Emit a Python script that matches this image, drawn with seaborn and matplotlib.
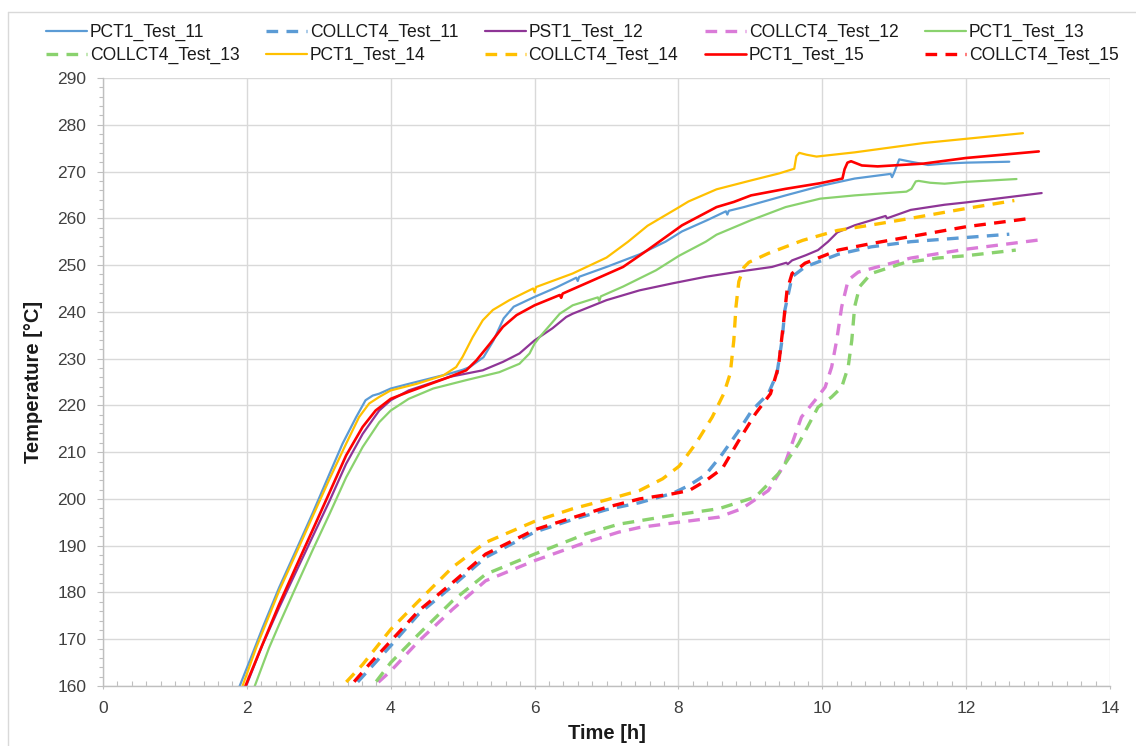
import matplotlib
matplotlib.use("Agg")
import matplotlib.pyplot as plt
from matplotlib.lines import Line2D
from matplotlib.ticker import MultipleLocator
import pandas as pd
import seaborn as sns

# ---------------- measured series: time [h] / temperature [°C] ----------------
pct1_11_time = [1.86, 1.90, 2.04, 2.22, 2.45, 2.68, 2.91, 3.15, 3.33, 3.52, 3.65, 3.75, 3.84, 4.00,
                4.25, 4.82, 5.00, 5.10, 5.29, 5.43, 5.57, 5.71, 6.00, 6.30, 6.58, 6.60, 6.62, 7.00,
                7.46, 7.82, 8.05, 8.40, 8.66, 8.68, 8.70, 8.91, 9.49, 10.00, 10.45, 10.95, 10.97,
                11.00, 11.07, 11.23, 11.47, 11.70, 12.00, 12.60]
pct1_11_temp = [158.0, 160.0, 165.4, 172.5, 181.1, 188.9, 196.8, 205.4, 211.8, 217.5, 221.1, 222.1,
                222.5, 223.6, 224.6, 226.8, 227.6, 228.2, 230.3, 233.9, 238.6, 241.1, 243.2, 245.2,
                247.3, 246.6, 247.5, 249.6, 252.3, 255.0, 257.2, 259.6, 261.5, 260.8, 261.6, 262.4,
                264.9, 267.0, 268.5, 269.5, 268.8, 269.8, 272.6, 272.1, 271.4, 271.7, 271.9, 272.1]

pst1_12_time = [1.95, 1.99, 2.22, 2.45, 2.68, 2.91, 3.15, 3.38, 3.61, 3.84, 4.00, 4.25, 4.82, 5.28,
                5.56, 5.79, 6.00, 6.25, 6.44, 6.53, 7.00, 7.46, 7.92, 8.38, 8.84, 9.30, 9.50, 9.52,
                9.58, 9.77, 9.94, 10.08, 10.21, 10.45, 10.88, 10.90, 11.23, 11.70, 12.00, 13.05]
pst1_12_temp = [158.0, 160.0, 168.9, 176.8, 184.3, 191.8, 199.6, 207.5, 213.9, 218.9, 221.1, 223.2,
                226.1, 227.5, 229.3, 231.1, 233.9, 236.5, 238.9, 239.6, 242.5, 244.6, 246.1, 247.5,
                248.6, 249.6, 250.5, 250.2, 251.0, 252.1, 253.2, 255.0, 257.0, 258.5, 260.5, 260.0,
                261.8, 262.9, 263.4, 265.4]

pct1_13_time = [2.07, 2.11, 2.31, 2.45, 2.68, 2.91, 3.15, 3.38, 3.61, 3.84, 4.00, 4.25, 4.59, 5.05,
                5.51, 5.79, 5.93, 6.00, 6.07, 6.35, 6.53, 6.88, 6.90, 6.92, 7.23, 7.69, 8.01, 8.38,
                8.53, 9.01, 9.49, 9.97, 10.45, 11.17, 11.24, 11.30, 11.34, 11.50, 11.70, 12.00, 12.70]
pct1_13_temp = [158.0, 160.0, 168.2, 173.2, 181.1, 188.9, 196.8, 204.6, 211.1, 216.4, 218.9, 221.4,
                223.6, 225.4, 227.1, 228.9, 231.1, 233.2, 234.6, 239.6, 241.4, 243.1, 242.3, 243.3,
                245.4, 248.9, 252.0, 255.0, 256.5, 259.6, 262.4, 264.2, 264.9, 265.7, 266.3, 267.9,
                268.0, 267.6, 267.4, 267.8, 268.4]

pct1_14_time = [1.90, 1.94, 2.13, 2.45, 2.68, 2.91, 3.15, 3.38, 3.56, 3.70, 3.84, 4.00, 4.36, 4.73,
                4.91, 5.00, 5.14, 5.28, 5.42, 5.65, 5.98, 6.00, 6.02, 6.53, 7.00, 7.30, 7.57, 8.00,
                8.14, 8.53, 9.01, 9.40, 9.61, 9.64, 9.68, 9.78, 9.92, 10.45, 11.41, 12.00, 12.79]
pct1_14_temp = [158.0, 160.0, 168.2, 180.4, 188.2, 196.1, 204.3, 211.8, 217.5, 220.4, 221.8, 223.2,
                224.6, 226.4, 228.2, 230.4, 234.6, 238.2, 240.4, 242.5, 245.0, 244.2, 245.3, 248.2,
                251.6, 255.0, 258.4, 262.3, 263.6, 266.2, 268.1, 269.6, 270.6, 273.3, 274.0, 273.6,
                273.2, 274.1, 276.1, 277.0, 278.2]

pct1_15_time = [1.94, 1.98, 2.18, 2.45, 2.68, 2.91, 3.15, 3.38, 3.61, 3.79, 4.00, 4.25, 4.82, 5.05,
                5.19, 5.38, 5.56, 5.75, 6.00, 6.35, 6.37, 6.39, 6.76, 7.23, 7.57, 8.05, 8.53, 8.77,
                9.01, 9.49, 9.97, 10.28, 10.31, 10.35, 10.40, 10.55, 10.77, 11.41, 12.00, 13.01]
pct1_15_temp = [158.0, 160.0, 167.5, 177.5, 185.4, 193.2, 201.4, 209.3, 215.4, 218.9, 221.4, 222.9,
                226.1, 227.5, 229.6, 233.2, 236.8, 239.3, 241.4, 243.6, 243.0, 243.9, 246.4, 249.6,
                253.2, 258.5, 262.4, 263.5, 264.9, 266.3, 267.5, 268.5, 270.5, 271.9, 272.2, 271.3,
                271.1, 271.7, 272.9, 274.3]

collct4_11_time = [3.44, 3.49, 4.00, 4.39, 4.86, 5.32, 6.00, 6.53, 7.00, 7.46, 7.92, 8.15, 8.38,
                   8.61, 8.84, 9.02, 9.25, 9.37, 9.44, 9.48, 9.58, 9.76, 10.22, 10.68, 11.23,
                   12.00, 12.60]
collct4_11_temp = [157.0, 160.0, 168.6, 175.4, 181.4, 187.5, 192.9, 195.6, 197.7, 199.2, 201.2,
                   202.9, 205.2, 209.6, 214.6, 218.9, 222.5, 226.8, 233.9, 240.4, 247.5, 249.6,
                   252.3, 253.9, 255.0, 255.9, 256.6]

collct4_12_time = [3.73, 3.77, 4.00, 4.39, 4.86, 5.32, 6.00, 6.71, 7.17, 7.46, 8.00, 8.56, 8.88,
                   9.12, 9.25, 9.48, 9.71, 9.90, 10.04, 10.13, 10.20, 10.27, 10.36, 10.50, 10.91,
                   11.23, 12.00, 13.03]
collct4_12_temp = [157.0, 160.0, 163.2, 169.6, 176.4, 182.5, 186.8, 190.7, 192.9, 193.9, 195.0,
                   196.1, 197.9, 200.4, 201.8, 207.5, 217.5, 221.1, 223.9, 228.2, 233.9, 241.1,
                   246.8, 248.5, 250.2, 251.5, 253.4, 255.4]

collct4_13_time = [3.71, 3.75, 4.00, 4.39, 4.86, 5.32, 6.00, 6.71, 7.17, 7.92, 8.56, 9.07, 9.39,
                   9.67, 9.94, 10.13, 10.27, 10.36, 10.41, 10.45, 10.52, 10.68, 11.14, 11.60,
                   12.00, 12.69]
collct4_13_temp = [157.0, 160.0, 165.0, 171.1, 178.2, 183.9, 188.2, 192.5, 194.6, 196.5, 197.9,
                   200.4, 205.4, 211.8, 219.6, 221.8, 223.9, 228.2, 233.9, 241.1, 245.4, 248.2,
                   250.5, 251.5, 252.0, 253.2]

collct4_14_time = [3.28, 3.33, 3.61, 4.00, 4.39, 4.86, 5.32, 6.00, 6.53, 7.00, 7.46, 7.78, 8.01,
                   8.24, 8.47, 8.63, 8.72, 8.77, 8.80, 8.84, 8.91, 8.98, 9.25, 9.73, 10.21, 10.77,
                   11.23, 12.00, 12.67]
collct4_14_temp = [157.0, 160.0, 164.6, 172.1, 178.2, 185.4, 190.7, 195.2, 197.9, 199.8, 201.8,
                   204.3, 207.0, 211.8, 217.5, 222.5, 226.8, 233.9, 241.1, 246.5, 249.5, 250.6,
                   252.5, 255.3, 257.4, 258.8, 260.0, 262.1, 263.8]

collct4_15_time = [3.40, 3.44, 3.70, 4.00, 4.39, 4.86, 5.32, 6.00, 6.53, 7.00, 7.46, 7.92, 8.15,
                   8.38, 8.61, 8.84, 9.07, 9.28, 9.39, 9.46, 9.51, 9.58, 9.76, 10.22, 10.68, 11.23,
                   12.00, 12.90]
collct4_15_temp = [157.0, 160.0, 164.6, 169.6, 176.1, 182.1, 188.2, 193.4, 196.0, 198.2, 200.0,
                   201.1, 201.8, 203.9, 206.5, 212.5, 218.2, 222.5, 228.2, 237.5, 244.6, 248.2,
                   250.4, 253.2, 254.6, 256.1, 258.2, 260.0]

series_names = ["PCT1_Test_11", "COLLCT4_Test_11", "PST1_Test_12", "COLLCT4_Test_12",
                "PCT1_Test_13", "COLLCT4_Test_13", "PCT1_Test_14", "COLLCT4_Test_14",
                "PCT1_Test_15", "COLLCT4_Test_15"]
series_data = [
    (pct1_11_time, pct1_11_temp), (collct4_11_time, collct4_11_temp),
    (pst1_12_time, pst1_12_temp), (collct4_12_time, collct4_12_temp),
    (pct1_13_time, pct1_13_temp), (collct4_13_time, collct4_13_temp),
    (pct1_14_time, pct1_14_temp), (collct4_14_time, collct4_14_temp),
    (pct1_15_time, pct1_15_temp), (collct4_15_time, collct4_15_temp),
]

# ---------------- styles ----------------
colors = {
    "PCT1_Test_11": "#5B9BD5", "COLLCT4_Test_11": "#5B9BD5",
    "PST1_Test_12": "#8E3596", "COLLCT4_Test_12": "#DA7BD8",
    "PCT1_Test_13": "#8AD26E", "COLLCT4_Test_13": "#8AD26E",
    "PCT1_Test_14": "#FFC000", "COLLCT4_Test_14": "#FFC000",
    "PCT1_Test_15": "#FF0000", "COLLCT4_Test_15": "#FF0000",
}

frames = []
for name, (t, temp) in zip(series_names, series_data):
    frames.append(pd.DataFrame({"Time": t, "Temperature": temp, "Series": name}))
df = pd.concat(frames, ignore_index=True)

sns.set_theme(style="white")
plt.rcParams["font.family"] = ["Liberation Sans", "DejaVu Sans"]

W, H = 1136, 746
fig = plt.figure(figsize=(W / 100, H / 100), dpi=100)
ax = fig.add_axes([103 / W, 1 - 686 / H, (1110 - 103) / W, (686 - 78) / H])

for name in series_names:
    sub = df[df["Series"] == name]
    dashed = name.startswith("COLLCT4")
    lw = 2.4 if dashed else (1.9 if name == "PCT1_Test_15" else 1.6)
    line_kw = (dict(dashes=(3.5, 2.5), dash_capstyle="butt") if dashed
               else dict(solid_capstyle="round", solid_joinstyle="round"))
    sns.lineplot(data=sub, x="Time", y="Temperature", ax=ax, sort=False, estimator=None,
                 color=colors[name], lw=lw, label=name, legend=False, **line_kw)

# ---------------- axes ----------------
ax.set_xlim(0, 14)
ax.set_ylim(160, 290)
ax.xaxis.set_major_locator(MultipleLocator(2))
ax.xaxis.set_minor_locator(MultipleLocator(0.2))
ax.yaxis.set_major_locator(MultipleLocator(10))
ax.yaxis.set_minor_locator(MultipleLocator(2))

grid_c = "#D9D9D9"
axis_c = "#BFBFBF"
ax.grid(True, which="major", color=grid_c, lw=1.0)
ax.set_axisbelow(True)
for side in ["top", "right"]:
    ax.spines[side].set_visible(False)
for side in ["left", "bottom"]:
    ax.spines[side].set_color(axis_c)
    ax.spines[side].set_linewidth(1.0)

ax.tick_params(axis="x", which="major", direction="out", length=2, width=0.8,
               color=axis_c, pad=8.5, labelsize=12.5, labelcolor="#404040")
ax.tick_params(axis="x", which="minor", direction="in", length=3.5, width=0.8, color=axis_c)
ax.tick_params(axis="y", which="major", direction="out", length=4, width=0.8,
               color=axis_c, pad=8, labelsize=12.5, labelcolor="#404040")
ax.tick_params(axis="y", which="minor", direction="out", length=3, width=0.8, color=axis_c)
ax.tick_params(which="both", bottom=True, left=True, top=False, right=False)

ax.set_xlabel("Time [h]", fontsize=14.5, fontweight="bold", color="#1a1a1a", labelpad=6)
ax.set_ylabel("Temperature [°C]", fontsize=14.5, fontweight="bold", color="#1a1a1a", labelpad=10)

# ---------------- legend (row-major order over two rows) ----------------
handles, labels = ax.get_legend_handles_labels()
order = [0, 5, 1, 6, 2, 7, 3, 8, 4, 9]
fig.legend([handles[i] for i in order], [labels[i] for i in order], ncol=5,
           loc="upper left", bbox_to_anchor=(46 / W, 1 - 24 / H), frameon=False,
           fontsize=12.65, handlelength=2.33, handletextpad=0.17, columnspacing=1.5,
           labelspacing=0.33, borderpad=0, borderaxespad=0, labelcolor="#1a1a1a")

# ---------------- chart-area border ----------------
fig.add_artist(Line2D([8 / W, 1.0], [1 - 12 / H, 1 - 12 / H], color=grid_c, lw=1.0,
                      transform=fig.transFigure))
fig.add_artist(Line2D([8 / W, 8 / W], [0.0, 1 - 12 / H], color=grid_c, lw=1.0,
                      transform=fig.transFigure))

fig.savefig("out.png", dpi=100)
